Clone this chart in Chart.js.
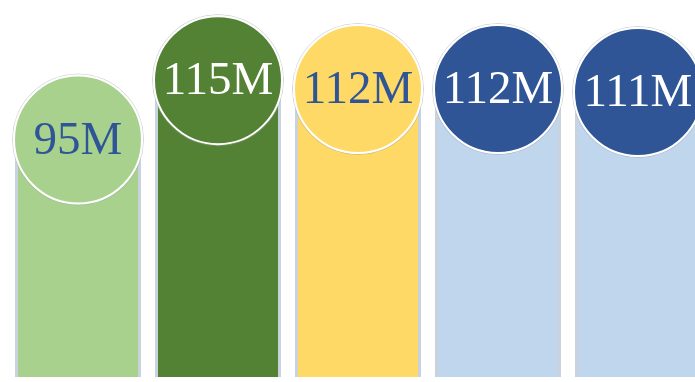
<!DOCTYPE html>
<html lang="en">
<head>
<meta charset="UTF-8">
<title>Bars with value bubbles</title>
<script src="https://cdn.jsdelivr.net/npm/chart.js"></script>
<style>
    html, body {
        margin: 0;
        padding: 0;
        background: #fff;
        overflow: hidden;
    }
    #wrap {
        position: relative;
        width: 712px;
        height: 382px;
    }
</style>
</head>
<body>
<div id="wrap"><canvas id="barChart"></canvas></div>
<script>
const categories = ['A', 'B', 'C', 'D', 'E'];
const values = [95, 115, 112, 112, 111];
const valueLabels = ['95M', '115M', '112M', '112M', '111M'];

const barColors = ['#a9d18e', '#548235', '#ffd966', '#bfd6ed', '#bfd6ed'];
const bubbleColors = ['#a9d18e', '#548235', '#ffd966', '#2f5597', '#2f5597'];
const textColors = ['#2f5597', '#ffffff', '#2f5597', '#ffffff', '#ffffff'];

// draws the round badge with the value on top of each bar
const bubblePlugin = {
    id: 'bubbles',
    afterDatasetsDraw(chart) {
        const ctx = chart.ctx;
        const meta = chart.getDatasetMeta(0);
        const r = 64;
        meta.data.forEach((bar, i) => {
            ctx.save();
            ctx.beginPath();
            ctx.arc(bar.x, bar.y, r + 1.5, 0, Math.PI * 2);
            ctx.strokeStyle = 'rgba(160,160,170,0.45)';
            ctx.lineWidth = 1;
            ctx.stroke();

            ctx.beginPath();
            ctx.arc(bar.x, bar.y, r, 0, Math.PI * 2);
            ctx.fillStyle = bubbleColors[i];
            ctx.fill();
            ctx.strokeStyle = '#ffffff';
            ctx.lineWidth = 2;
            ctx.stroke();

            ctx.fillStyle = textColors[i];
            ctx.font = '47px "Liberation Serif", "DejaVu Serif", serif';
            ctx.textAlign = 'center';
            ctx.textBaseline = 'middle';
            ctx.fillText(valueLabels[i], bar.x, bar.y + 2);
            ctx.restore();
        });
    }
};

const ctx = document.getElementById('barChart').getContext('2d');
const chart = new Chart(ctx, {
    type: 'bar',
    data: {
        labels: categories,
        datasets: [{
            data: values,
            backgroundColor: barColors,
            borderColor: '#c9d2df',
            borderWidth: 3,
            borderSkipped: false,
            categoryPercentage: 1,
            barPercentage: 0.9
        }]
    },
    options: {
        responsive: true,
        maintainAspectRatio: false,
        animation: false,
        layout: {
            padding: { left: 8, right: 4, top: 0, bottom: 5 }
        },
        scales: {
            x: { display: false },
            y: { display: false, min: 15, max: 142 }
        },
        plugins: {
            legend: { display: false },
            tooltip: { enabled: false }
        }
    },
    plugins: [bubblePlugin]
});
</script>
</body>
</html>
